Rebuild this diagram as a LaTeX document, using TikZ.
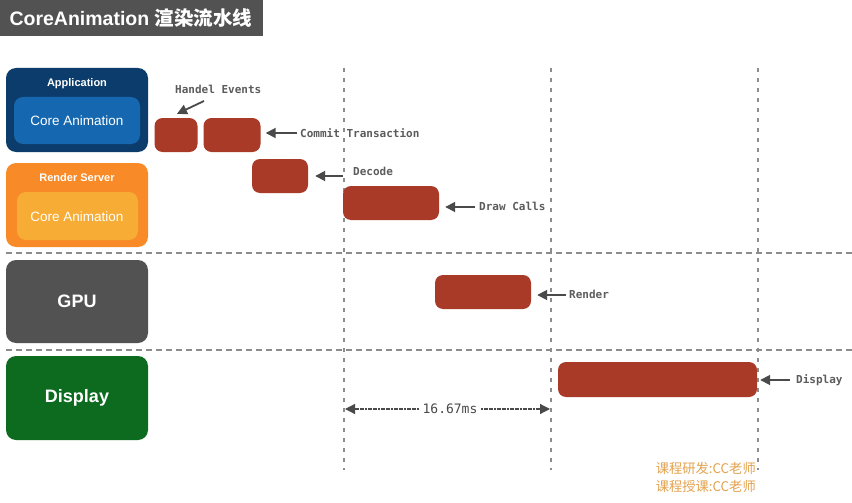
\documentclass[tikz,border=0pt]{standalone}
\usepackage{fontspec}
\setmainfont{Liberation Sans}
\newfontfamily\cjk{Noto Sans CJK SC}
\newfontfamily\hand{DejaVu Sans Mono}
\usetikzlibrary{arrows.meta,calc}
\definecolor{navy}{HTML}{0C3C6B}
\definecolor{appin}{HTML}{1568B0}
\definecolor{orng}{HTML}{F88A28}
\definecolor{orngin}{HTML}{F6AC35}
\definecolor{gpugray}{HTML}{525252}
\definecolor{dispgreen}{HTML}{0D6B1F}
\definecolor{blk}{HTML}{A83A27}
\definecolor{arr}{HTML}{4A4A4A}
\definecolor{dash}{HTML}{8C8C8C}
\definecolor{sig}{HTML}{E3A24E}
\begin{document}
\begin{tikzpicture}[x=1pt,y=-1pt,
  lane/.style={fill=#1,rounded corners=10pt,draw=none},
  block/.style={fill=blk,rounded corners=8pt,draw=none},
  lbl/.style={font=\hand\bfseries\fontsize{11}{13}\selectfont,text=arr!90,anchor=west,inner sep=0pt},
  pointer/.style={draw=arr,line width=1.8pt,-{Triangle[length=10pt,width=10pt]}},
  vdash/.style={draw=dash,line width=2pt,dash pattern=on 4pt off 6pt},
  hdash/.style={draw=dash,line width=2.5pt,dash pattern=on 6pt off 4pt},
  wtxt/.style={text=white,font=\bfseries}]
\useasboundingbox (0,0) rectangle (852,503);
\fill[white] (0,0) rectangle (852,503);
% title
\node[fill=gpugray,anchor=north west,minimum width=263pt,minimum height=36pt,inner sep=0pt] (title) at (0,0) {};
\node[text=white,font=\bfseries\fontsize{19.5}{21}\selectfont,anchor=west] (titletxt) at (6,18) {CoreAnimation \cjk 渲染流水线};
% grid lines
\coordinate (h1a) at (6,253); \coordinate (h1b) at (852,253);
\coordinate (h2a) at (6,350); \coordinate (h2b) at (852,350);
\draw[hdash] (h1a) -- (h1b);
\draw[hdash] (h2a) -- (h2b);
\foreach \x/\n in {344/va,551/vb,758/vc}{
  \coordinate (\n1) at (\x,68); \coordinate (\n2) at (\x,470);
  \draw[vdash] (\n1) -- (\n2);
}
% lanes
\path[lane=navy] (6,68) rectangle (148,152);
\node[wtxt,font=\bfseries\fontsize{11}{13}\selectfont] (app) at (77,84) {Application};
\path[lane=appin,rounded corners=9pt] (14,97) rectangle (140,144);
\node[text=white,font=\fontsize{13.5}{15}\selectfont] (appca) at (77,121) {Core Animation};
\path[lane=orng] (6,163) rectangle (148,247);
\node[wtxt,font=\bfseries\fontsize{11}{13}\selectfont] (rs) at (77,178) {Render Server};
\path[lane=orngin,rounded corners=9pt] (17,192) rectangle (138,240);
\node[text=white,font=\fontsize{13.5}{15}\selectfont] (rsca) at (77,217) {Core Animation};
\path[lane=gpugray] (6,260) rectangle (148,343);
\node[wtxt,font=\bfseries\fontsize{18}{20}\selectfont] (gpu) at (77,301) {GPU};
\path[lane=dispgreen] (6,356) rectangle (148,440);
\node[wtxt,font=\bfseries\fontsize{18}{20}\selectfont] (disp) at (77,398) {Display};
% blocks
\node[block,minimum width=43pt,minimum height=34pt] (b1) at (176,135) {};
\node[block,minimum width=57pt,minimum height=34pt] (b2) at (232,135) {};
\node[block,minimum width=56pt,minimum height=34pt] (b3) at (280,176) {};
\node[block,minimum width=96pt,minimum height=34pt] (b4) at (391,203) {};
\node[block,minimum width=96pt,minimum height=34pt] (b5) at (483,292) {};
\node[block,minimum width=199pt,minimum height=35pt] (b6) at (657.5,379.5) {};
% labels
\node[lbl] (l1) at (175,89) {Handel Events};
\node[lbl] (l2) at (300,133) {Commit Transaction};
\node[lbl] (l3) at (353,171) {Decode};
\node[lbl] (l4) at (479,206) {Draw Calls};
\node[lbl] (l5) at (569,294) {Render};
\node[lbl] (l6) at (796,380) {Display};
\coordinate (p1) at (204,101);
\coordinate (d1) at (343,176);
\draw[pointer] (p1) -- ($(b1.north)+(1,-4)$);
\draw[pointer] ([xshift=-3pt]l2.west) -- ([xshift=5pt]l2.west -| b2.east);
\draw[pointer] (d1) -- ([xshift=7pt]b3.east);
\draw[pointer] ([xshift=-4pt,yshift=-1pt]l4.west) -- ([xshift=6pt,yshift=-1pt]l4.west -| b4.east);
\draw[pointer] ([xshift=-3pt,yshift=-1pt]l5.west) -- ([xshift=6pt,yshift=-1pt]l5.west -| b5.east);
\draw[pointer] ([xshift=-6pt]l6.west) -- ([xshift=3pt]l6.west -| b6.east);
% 16.67ms
\node[font=\hand\fontsize{13}{15}\selectfont,text=arr] (ms) at (450,409) {16.67ms};
\coordinate (msl) at (345,409); \coordinate (msr) at (550,409);
\draw[draw=arr,line width=1.2pt,dash pattern=on 2pt off 0.6pt,-{Triangle[length=10pt,width=10pt]}] (ms.west) -- (msl);
\draw[draw=arr,line width=1.2pt,dash pattern=on 2pt off 0.6pt,-{Triangle[length=10pt,width=10pt]}] (ms.east) -- (msr);
% signature
\node[text=sig,font=\cjk\fontsize{13.3}{15}\selectfont,anchor=east,inner sep=0pt] (s1) at (756,468) {课程研发:CC老师};
\node[text=sig,font=\cjk\fontsize{13.3}{15}\selectfont,anchor=east,inner sep=0pt] (s2) at (756,486) {课程授课:CC老师};
\end{tikzpicture}
\end{document}
